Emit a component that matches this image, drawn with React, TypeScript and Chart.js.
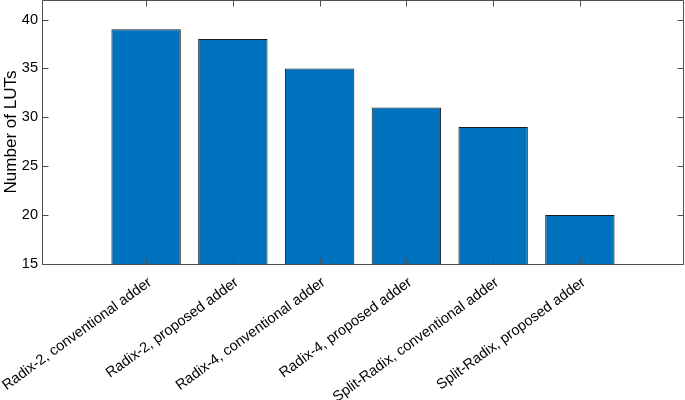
import React, { useEffect, useRef } from "react";
import { Chart, registerables } from "chart.js";

Chart.register(...registerables);

const categories = [
  "Radix-2, conventional adder",
  "Radix-2, proposed adder",
  "Radix-4, conventional adder",
  "Radix-4, proposed adder",
  "Split-Radix, conventional adder",
  "Split-Radix, proposed adder",
];
const lutCounts = [39, 38, 35, 31, 29, 20];
const yTickValues = [15, 20, 25, 30, 35, 40];
const yMin = 15;
const yMax = 42;
const xMin = -0.2;
const xMax = 7.2;

const FONT = "'Liberation Sans', Arial, Helvetica, sans-serif";
const AXIS_COLOR = "#4d4d4d";

const zeroPad = (scale: any) => {
  scale.paddingLeft = 0;
  scale.paddingRight = 0;
  scale.paddingTop = 0;
  scale.paddingBottom = 0;
};

const boxPlugin = {
  id: "matlabBox",
  afterDraw(chart: any) {
    const { ctx, chartArea } = chart;
    const { left, right, top, bottom } = chartArea;
    const xs = chart.scales.x;
    const ys = chart.scales.y;
    ctx.save();
    ctx.strokeStyle = AXIS_COLOR;
    ctx.lineWidth = 1;
    ctx.beginPath();
    const L = Math.round(left) + 0.5;
    const R = Math.round(right) - 0.5;
    const T = Math.round(top) + 0.5;
    const B = Math.round(bottom) + 0.5;
    ctx.rect(L, T, R - L, B - T);
    const tl = 6;
    for (const t of ys.ticks) {
      const y = Math.round(ys.getPixelForValue(t.value)) + 0.5;
      ctx.moveTo(L, y);
      ctx.lineTo(L + tl, y);
      ctx.moveTo(R, y);
      ctx.lineTo(R - tl, y);
    }
    for (const t of xs.ticks) {
      const x = Math.round(xs.getPixelForValue(t.value)) + 0.5;
      ctx.moveTo(x, B);
      ctx.lineTo(x, B - tl);
      ctx.moveTo(x, T);
      ctx.lineTo(x, T + tl);
    }
    ctx.stroke();
    ctx.restore();
  },
};

export default function App() {
  const canvasRef = useRef<HTMLCanvasElement | null>(null);

  useEffect(() => {
    document.body.style.margin = "0";
    const canvas = canvasRef.current;
    if (!canvas) return;
    const chart = new Chart(canvas, {
      type: "bar",
      data: {
        datasets: [
          {
            data: lutCounts.map((v, i) => ({ x: i + 1, y: v })),
            backgroundColor: "#0072BD",
            borderColor: "#1a1a1a",
            borderWidth: 1,
            borderSkipped: "start",
            categoryPercentage: 0.8,
            barPercentage: 1.0,
          },
        ],
      },
      options: {
        animation: false,
        responsive: false,
        maintainAspectRatio: false,
        layout: { padding: { left: 0, right: 1, top: 0, bottom: 0 } },
        plugins: {
          legend: { display: false },
          tooltip: { enabled: false },
        },
        scales: {
          x: {
            type: "linear",
            min: xMin,
            max: xMax,
            offset: false,
            grid: { display: false, drawTicks: false },
            border: { display: false },
            afterBuildTicks: (scale: any) => {
              scale.ticks = categories.map((_, i) => ({ value: i + 1 }));
            },
            afterFit: (scale: any) => {
              scale.height = 136;
              zeroPad(scale);
            },
            ticks: {
              autoSkip: false,
              minRotation: 36,
              maxRotation: 36,
              padding: 10,
              labelOffset: 4,
              color: "#000000",
              font: { family: FONT, size: 14.5 },
              callback: (value: any) => categories[Number(value) - 1] ?? "",
            },
          },
          y: {
            min: yMin,
            max: yMax,
            grid: { display: false, drawTicks: false },
            border: { display: false },
            afterBuildTicks: (scale: any) => {
              scale.ticks = yTickValues.map((v) => ({ value: v }));
            },
            afterFit: (scale: any) => {
              scale.width = 42;
              zeroPad(scale);
            },
            ticks: {
              padding: 4,
              color: "#000000",
              font: { family: FONT, size: 14.5 },
            },
            title: {
              display: true,
              text: "Number of LUTs",
              color: "#000000",
              padding: { top: 1, bottom: 0 },
              font: { family: FONT, size: 17 },
            },
          },
        },
      },
      plugins: [boxPlugin],
    });
    return () => chart.destroy();
  }, []);

  return (
    <div style={{ position: "absolute", left: 0, top: 0, width: 685, height: 400, background: "#ffffff" }}>
      <canvas ref={canvasRef} width={685} height={400} style={{ width: 685, height: 400 }} />
    </div>
  );
}
